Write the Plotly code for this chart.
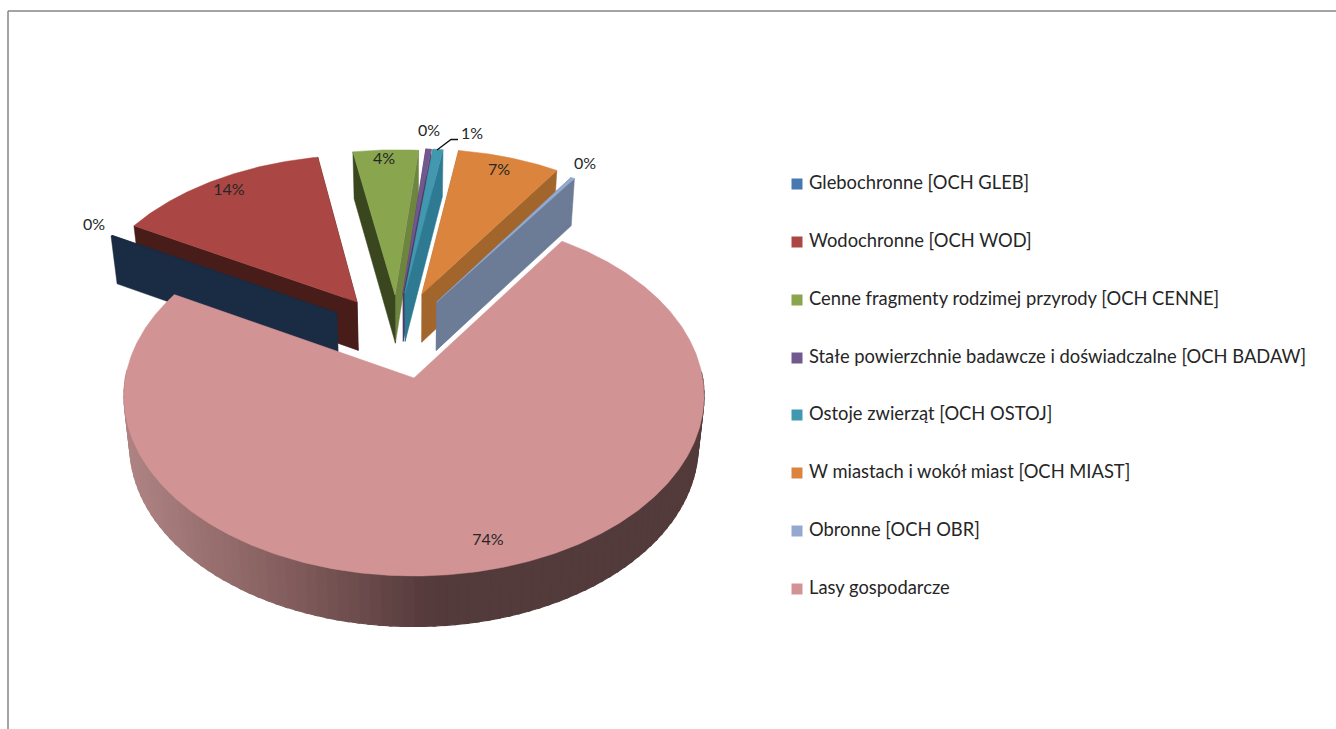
import numpy as np
import plotly.graph_objects as go

# ---- data ----
categories = ["Glebochronne [OCH GLEB]", "Wodochronne [OCH WOD]",
              "Cenne fragmenty rodzimej przyrody [OCH CENNE]",
              "Stałe powierzchnie badawcze i doświadczalne [OCH BADAW]",
              "Ostoje zwierząt [OCH OSTOJ]", "W miastach i wokół miast [OCH MIAST]",
              "Obronne [OCH OBR]", "Lasy gospodarcze"]
values = [0.1, 13.9, 4.25, 0.35, 0.65, 6.7, 0.25, 73.8]

# ---- style ----
top_colors = ["#4779B0", "#AA4643", "#89A54E", "#71588F", "#4198AF", "#DB843D", "#93A9CF", "#D29394"]
left_face = ["#1A2C44", "#471C19", "#39461E", "#4A3A60", "#2F7A93", "#A2652B", "#6C7B96", "#533A3B"]
right_face = ["#1A2C44", "#471C19", "#6E853F", "#5A4572", "#2F7A93", "#A2652B", "#6C7B96", "#533A3B"]
text_color = "#262626"

# exploded offset of each slice on the pie's disc (unit radius)
pull_x = [-0.278, -0.206, -0.069, -0.040, -0.033, 0.029, 0.082, 0.0]
pull_y = [0.379, 0.445, 0.489, 0.500, 0.500, 0.495, 0.445, 0.0]
radius = [0.99, 0.985, 0.98, 0.98, 0.98, 0.98, 0.98, 1.0]

# view parameters of the tilted disc
CX, CY = 414.0, 378.0
A, B, K = 288.6, 178.2, 0.10
START = 299.4


def project(X, Y, bottom=False):
    X, Y = np.asarray(X, float), np.asarray(Y, float)
    u = A * X / (1 + K * Y)
    v = B * Y / (1 + K * Y)
    if bottom:
        return CX + u * 0.98, CY - v + (49 - 1.5 * Y)
    return CX + u, CY - v


def poly(fig, xs, ys, color, lw=0.5):
    fig.add_trace(go.Scatter(x=list(xs), y=list(ys), mode="lines", fill="toself",
                             fillcolor=color, line=dict(color=color, width=lw),
                             hoverinfo="skip", showlegend=False))


fig = go.Figure()
shares = np.array(values) / sum(values) * 360
starts = START + np.concatenate([[0], np.cumsum(shares)[:-1]])

for i in [1, 0, 2, 3, 4, 5, 6, 7]:
    t0, t1 = starts[i], starts[i] + shares[i]
    th = np.radians(np.linspace(t0, t1, max(3, int(shares[i] * 2))))
    px, py = pull_x[i], pull_y[i]
    ox, oy = px + radius[i] * np.sin(th), py + radius[i] * np.cos(th)
    tx, ty = project(px, py)
    bx, by = project(px, py, True)
    if i != len(values) - 1:
        # radial faces
        for oxi, oyi, c in ((ox[-1], oy[-1], right_face[i]), (ox[0], oy[0], left_face[i])):
            a, b = project(oxi, oyi)
            c2, d = project(oxi, oyi, True)
            poly(fig, [tx, float(a), float(c2), bx, tx], [ty, float(b), float(d), by, ty], c)
    else:
        # curved rim with a horizontal shade
        seg = np.arange(88, 272, 2.0)
        stops_x = [124, 300, 420, 450, 704]
        for g0 in seg:
            tt = np.radians(np.array([g0, g0 + 2.5]))
            X, Y = np.sin(tt), np.cos(tt)
            ax, ay = project(X, Y)
            cx2, cy2 = project(X, Y, True)
            xm = float(ax.mean())
            rgb = [np.interp(xm, stops_x, s) for s in ([176, 127, 88, 83, 83], [132, 90, 60, 58, 58], [132, 90, 61, 59, 59])]
            col = "rgb(%d,%d,%d)" % tuple(rgb)
            poly(fig, [ax[0], ax[1], cx2[1], cx2[0], ax[0]], [ay[0], ay[1], cy2[1], cy2[0], ay[0]], col, lw=1.2)
    sx, sy = project(ox, oy)
    # the thinnest slice shows only its dark face in the reference
    poly(fig, [tx, *sx, tx], [ty, *sy, ty], left_face[i] if i == 0 else top_colors[i])

# percent labels
label_x = [94, 229, 384, 429, 472, 499, 585, 488]
label_y = [226, 191, 160, 132, 135, 171, 165, 541]
fig.add_trace(go.Scatter(x=label_x, y=label_y, mode="text",
                         text=[f"{round(v)}%" for v in values],
                         textfont=dict(family="Lato", size=16, color=text_color),
                         hoverinfo="skip", showlegend=False))
# leader line for the 1% label
fig.add_trace(go.Scatter(x=[437, 451, 458], y=[150, 139.5, 139.5], mode="lines",
                         line=dict(color="#111111", width=1.3), hoverinfo="skip", showlegend=False))

# legend entries, spaced as in the reference
legend_x = 797
legend_text_x = 809
legend_y = [184, 242, 300, 358, 415, 473, 531, 589]
for i, name in enumerate(categories):
    fig.add_trace(go.Scatter(x=[legend_x], y=[legend_y[i]], mode="markers", name=name,
                             marker=dict(symbol="square", size=11, color=top_colors[i]),
                             hoverinfo="skip", showlegend=False))
    fig.add_trace(go.Scatter(x=[legend_text_x], y=[legend_y[i]], mode="text", name=name,
                             text=[name], textposition="middle right",
                             textfont=dict(family="Lato", size=18.35, color=text_color),
                             hoverinfo="skip", showlegend=False, cliponaxis=False))

fig.update_layout(
    width=1336, height=729, autosize=False,
    margin=dict(l=0, r=0, t=0, b=0),
    paper_bgcolor="white", plot_bgcolor="white",
    xaxis=dict(range=[0, 1336], visible=False, fixedrange=True),
    yaxis=dict(range=[729, 0], visible=False, fixedrange=True),
    showlegend=False,
    shapes=[dict(type="line", xref="x", yref="y", x0=8, x1=8, y0=11, y1=729,
                 line=dict(color="#868686", width=1.5)),
            dict(type="line", xref="x", yref="y", x0=8, x1=1336, y0=11, y1=11,
                 line=dict(color="#868686", width=1.5))],
)
fig.write_html("out.html", config=dict(displayModeBar=False),
               post_script="document.body.style.margin='0';document.body.style.overflow='hidden';")
